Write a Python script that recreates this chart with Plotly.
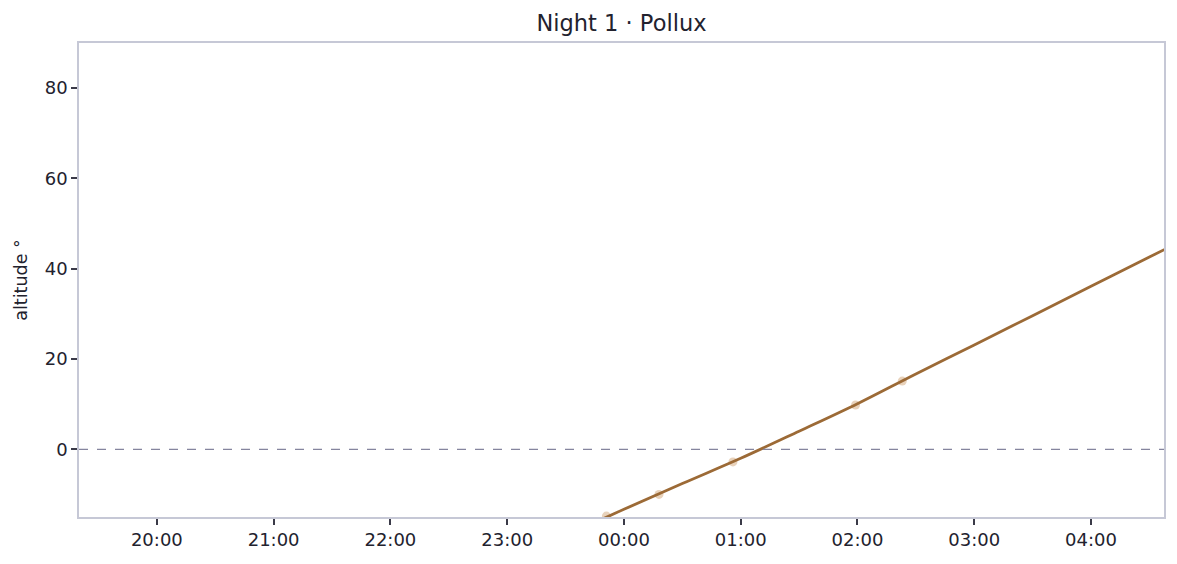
"""
Night 1 — Pollux altitude over the night.
"""

import plotly.graph_objects as go

# ─── Data ─────────────────────────────────────────────────────────────────────

curve_times = [
    "2024-01-01 23:30", "2024-01-02 00:00", "2024-01-02 00:30",
    "2024-01-02 01:00", "2024-01-02 01:30", "2024-01-02 02:00",
    "2024-01-02 02:30", "2024-01-02 03:00", "2024-01-02 03:30",
    "2024-01-02 04:00", "2024-01-02 04:30", "2024-01-02 05:00",
]
curve_alt = [-19.2, -13.3, -7.6, -2.0, 4.0, 10.1, 16.7, 23.1, 29.6, 36.1, 42.6, 49.0]

obs_times = [
    "2024-01-01 23:51", "2024-01-02 00:18", "2024-01-02 00:56",
    "2024-01-02 01:59", "2024-01-02 02:23",
]
obs_alt = [-14.8, -10.0, -2.8, 9.8, 15.1]

x_range = ["2024-01-01 19:20", "2024-01-02 04:37:30"]
y_range = [-15, 90]

TITLE = "Night 1 · Pollux"

COLORS = {
    "line":  "#9c6a36",
    "obs":   "#d8b48e",
    "zero":  "#85859e",
    "frame": "#c6c8d6",
    "text":  "#22222e",
}

# ─── Figure ───────────────────────────────────────────────────────────────────

fig = go.Figure()

fig.add_trace(go.Scatter(
    x=obs_times, y=obs_alt, mode="markers",
    marker=dict(size=9, color=COLORS["obs"], opacity=0.6),
    showlegend=False,
))

fig.add_trace(go.Scatter(
    x=curve_times, y=curve_alt, mode="lines",
    line=dict(color=COLORS["line"], width=2.8, shape="spline"),
    showlegend=False,
))

fig.add_hline(y=0, line_dash="dash", line_color=COLORS["zero"], line_width=1.3)

axis_common = dict(
    showline=True, mirror=True, linecolor=COLORS["frame"], linewidth=1.5,
    showgrid=False, zeroline=False, automargin=False,
    ticks="outside", ticklen=6, tickwidth=1.5, tickcolor="#3a3a48",
    tickfont=dict(size=18, color=COLORS["text"]),
)

fig.update_xaxes(
    range=x_range, tickformat="%H:%M", dtick=3600000,
    tick0="2024-01-01 20:00", **axis_common,
)
fig.update_yaxes(
    range=y_range, tickvals=[0, 20, 40, 60, 80],
    title=dict(text="altitude °", font=dict(size=17.5, color=COLORS["text"]), standoff=13),
    **axis_common,
)

# page body adds ~8px offset, margins compensate
fig.update_layout(
    width=1177, height=564,
    margin=dict(l=71, r=21, t=35, b=55),
    title=dict(text=TITLE, x=0.5, xanchor="center", xref="paper",
               y=1, yref="container", yanchor="top", pad=dict(t=7),
               font=dict(size=22.5, color=COLORS["text"])),
    font=dict(family="DejaVu Sans", color=COLORS["text"]),
    plot_bgcolor="white",
    paper_bgcolor="white",
)

fig.write_html("out.html")
